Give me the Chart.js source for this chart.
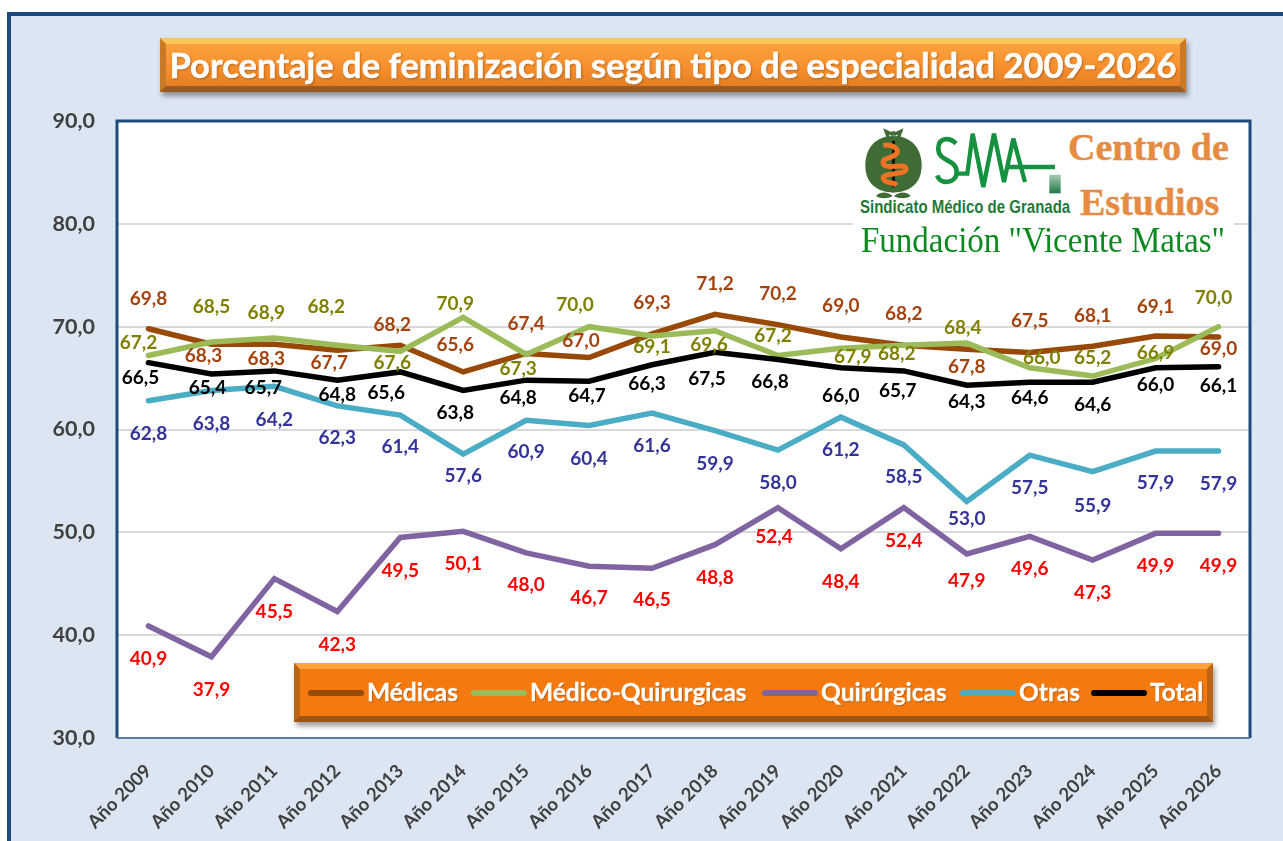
<!DOCTYPE html>
<html lang="es">
<head>
<meta charset="utf-8">
<title>Porcentaje de feminización</title>
<script src="https://cdn.jsdelivr.net/npm/chart.js@4/dist/chart.umd.min.js"></script>
<style>
  html, body { margin: 0; padding: 0; background: #fff; overflow: hidden; }
  #marco { position: absolute; left: 7px; top: 12px; width: 1290px; height: 840px; box-sizing: border-box;
           border-left: 4px solid #1f497d; border-top: 4px solid #1f497d; background: #dce6f2; }
  #grafica { position: absolute; left: 0; top: 0; display: block; }
  .caja { position: absolute; box-sizing: border-box; color: #fff; font-family: Lato, sans-serif; font-weight: 700;
          border-style: solid; white-space: nowrap; box-shadow: 2px 4px 5px rgba(0,0,0,.38); }
  #titulo { left: 160px; top: 38px; width: 1026px; height: 54px; line-height: 41px; text-align: center; font-size: 34.5px;
            border-width: 6px; border-color: #ffc65c #c87a26 #9a5a22 #c87a26;
            background: linear-gradient(#fba23c, #f78f2e 55%, #e57f22);
            -webkit-text-stroke: 0.5px #fff;
            text-shadow: 1px 1px 2px rgba(120,60,0,.6); }
  #leyenda { left: 294px; top: 663px; width: 919px; height: 59px; font-size: 24.5px; line-height: 45px;
             border-width: 6px; border-color: #ffa23c #bd6412 #9e5412 #bd6412; background: #f47a10;
             -webkit-text-stroke: 0.3px #fff;
             text-shadow: 1px 1px 1px rgba(120,60,0,.5); }
  #leyenda .item { position: absolute; top: 0; }
  #leyenda i { position: absolute; top: 21px; width: 56px; height: 6px; border-radius: 3px; }
  #logo { position: absolute; left: 853px; top: 123px; width: 381px; height: 132px; background: #fff; }
  #logo div { position: absolute; white-space: nowrap; transform-origin: left center; }
  #sma { position: absolute; left: -3px; top: -1px; }
  .centro { font-family: "Liberation Serif", serif; font-weight: 700; font-size: 38px; color: #e58b42; -webkit-text-stroke: 0.4px #e58b42; }
  #sindicato { left: 7px; top: 73px; font-family: "Liberation Sans", sans-serif;
               font-weight: 700; font-size: 19px; color: #1f7a3a; transform: scaleX(0.79); }
  #fundacion { left: 8px; top: 98px; font-family: "Liberation Serif", serif; font-size: 35px; color: #0b8a1e; transform: scaleX(0.943); }
</style>
</head>
<body>
<div id="marco"></div>
<canvas id="grafica" width="1283" height="841"></canvas>
<div id="titulo" class="caja">Porcentaje de feminización según tipo de especialidad 2009-2026</div>
<div id="logo">
  <svg id="sma" width="220" height="100" viewBox="0 0 660 300">
    <defs>
      <linearGradient id="cuadro" x1="0" y1="0" x2="0" y2="1">
        <stop offset="0" stop-color="#a9c9b4"/>
        <stop offset="1" stop-color="#1d7a45"/>
      </linearGradient>
    </defs>
    <path d="M130 38 L108 28 L116 50 M130 38 L152 28 L144 50 M130 38 L130 28" stroke="#3f6b35" stroke-width="10" fill="none"/>
    <path d="M130 42 C185 42 215 80 215 130 C215 185 180 210 130 212 C80 210 46 185 46 130 C46 80 75 42 130 42Z" fill="#3f6b35"/>
    <path d="M78 222 C95 205 115 212 128 222 C115 230 92 232 78 222Z M182 222 C165 205 145 212 132 222 C145 230 168 232 182 222Z" fill="#3f6b35"/>
    <rect x="126" y="56" width="9" height="140" fill="#111"/>
    <path d="M100 70 C125 65 150 80 140 95 C128 110 95 105 100 125 C105 145 165 120 168 140 C170 160 95 150 100 170 C105 185 130 178 140 190" stroke="#ee7325" stroke-width="15" fill="none"/>
    <path d="M318 65 C300 45 265 45 265 80 C265 120 320 110 320 150 C320 185 270 190 262 160" stroke="#16913f" stroke-width="14" fill="none"/>
    <path d="M320 155 L352 155 L368 35 L400 195 L432 35 L462 180 L490 50 L525 180 M470 135 L615 135" stroke="#16913f" stroke-width="13" fill="none"/>
    <rect x="598" y="158" width="34" height="56" fill="url(#cuadro)"/>
  </svg>
  <div id="sindicato">Sindicato Médico de Granada</div>
  <div class="centro" style="left:215px;top:2px">Centro de</div>
  <div class="centro" style="left:227px;top:57px">Estudios</div>
  <div id="fundacion">Fundación "Vicente Matas"</div>
</div>
<div id="leyenda" class="caja"></div>

<script>
//datos
var categorias = ["Año 2009", "Año 2010", "Año 2011", "Año 2012", "Año 2013", "Año 2014", "Año 2015", "Año 2016", "Año 2017",
  "Año 2018", "Año 2019", "Año 2020", "Año 2021", "Año 2022", "Año 2023", "Año 2024", "Año 2025", "Año 2026"];
var yTicks = [30, 40, 50, 60, 70, 80, 90];
var medicas = [69.8, 68.3, 68.3, 67.7, 68.2, 65.6, 67.4, 67.0, 69.3, 71.2, 70.2, 69.0, 68.2, 67.8, 67.5, 68.1, 69.1, 69.0];
var medicoQuirurgicas = [67.2, 68.5, 68.9, 68.2, 67.6, 70.9, 67.3, 70.0, 69.1, 69.6, 67.2, 67.9, 68.2, 68.4, 66.0, 65.2, 66.9, 70.0];
var quirurgicas = [40.9, 37.9, 45.5, 42.3, 49.5, 50.1, 48.0, 46.7, 46.5, 48.8, 52.4, 48.4, 52.4, 47.9, 49.6, 47.3, 49.9, 49.9];
var otras = [62.8, 63.8, 64.2, 62.3, 61.4, 57.6, 60.9, 60.4, 61.6, 59.9, 58.0, 61.2, 58.5, 53.0, 57.5, 55.9, 57.9, 57.9];
var total = [66.5, 65.4, 65.7, 64.8, 65.6, 63.8, 64.8, 64.7, 66.3, 67.5, 66.8, 66.0, 65.7, 64.3, 64.6, 64.6, 66.0, 66.1];

//desplazamiento de cada etiqueta respecto a su punto [dx, dy], colocadas a mano como en el original
var posMedicas = [[0,-30],[-8,12],[-8,15],[-8,13],[-8,-20],[-8,-27],[0,-30],[-8,-17],[0,-31],[0,-30],[0,-31],[0,-31],[0,-31],[0,18],[0,-32],[0,-30],[0,-29],[0,12]];
var posMedicoQ = [[-10,-13],[0,-35],[-8,-25],[-11,-38],[-8,12],[-8,-14],[-8,14],[-14,-22],[0,11],[-6,14],[-5,-20],[12,9],[-7,9],[-4,-15],[12,-10],[0,-18],[0,-6],[-5,-29]];
var posQuirurgicas = [[0,33],[0,33],[0,33],[0,33],[0,33],[0,33],[0,32],[0,32],[0,32],[0,33],[-4,29],[0,33],[0,33],[0,27],[0,32],[0,33],[0,33],[0,33]];
var posOtras = [[0,33],[0,33],[0,34],[0,32],[0,32],[0,22],[0,32],[0,33],[0,33],[0,33],[0,33],[0,33],[0,32],[0,17],[0,33],[0,34],[0,32],[0,33]];
var posTotal = [[-8,15],[-4,14],[-11,17],[0,15],[-14,21],[-8,22],[-8,18],[-2,15],[-5,19],[-8,26],[-8,22],[0,28],[-6,20],[0,17],[0,16],[0,23],[0,17],[0,19]];

var series = [
  { nombre: "Médicas", datos: medicas, color: "#984807", texto: "#a5430f", pos: posMedicas },
  { nombre: "Médico-Quirurgicas", datos: medicoQuirurgicas, color: "#9bbb59", texto: "#808000", pos: posMedicoQ },
  { nombre: "Quirúrgicas", datos: quirurgicas, color: "#8064a2", texto: "#ff0000", pos: posQuirurgicas },
  { nombre: "Otras", datos: otras, color: "#4bacc6", texto: "#333399", pos: posOtras },
  { nombre: "Total", datos: total, color: "#000000", texto: "#000000", pos: posTotal }
];

function coma(v) {
  return v.toFixed(1).replace(".", ",");
}

//fondo blanco y borde del area de la grafica
var areaPlugin = {
  id: "area",
  beforeDraw: function (chart) {
    var a = chart.chartArea;
    chart.ctx.fillStyle = "#fff";
    chart.ctx.fillRect(a.left, a.top, a.width, a.height);
  },
  beforeDatasetsDraw: function (chart) {
    var a = chart.chartArea, ctx = chart.ctx;
    ctx.save();
    ctx.strokeStyle = "#1f497d";
    ctx.lineWidth = 3;
    ctx.beginPath();
    ctx.moveTo(a.left, a.bottom);
    ctx.lineTo(a.left, a.top);
    ctx.lineTo(a.right, a.top);
    ctx.lineTo(a.right, a.bottom);
    ctx.stroke();
    ctx.strokeStyle = "#5b7a9d";
    ctx.lineWidth = 2;
    ctx.beginPath();
    ctx.moveTo(a.left, a.bottom);
    ctx.lineTo(a.right, a.bottom);
    ctx.stroke();
    ctx.restore();
  }
};

//etiquetas de valor en cada punto
var etiquetasPlugin = {
  id: "etiquetas",
  afterDatasetsDraw: function (chart) {
    var ctx = chart.ctx;
    ctx.save();
    ctx.font = "700 19px Lato";
    ctx.textAlign = "center";
    ctx.textBaseline = "middle";
    series.forEach(function (s, i) {
      ctx.fillStyle = s.texto;
      chart.getDatasetMeta(i).data.forEach(function (p, j) {
        ctx.fillText(coma(s.datos[j]), p.x + s.pos[j][0], p.y + s.pos[j][1]);
      });
    });
    ctx.restore();
  }
};

var myChart = new Chart(document.getElementById("grafica"), {
  type: "line",
  plugins: [areaPlugin, etiquetasPlugin],
  data: {
    labels: categorias,
    datasets: series.map(function (s, i) {
      return {
        label: s.nombre,
        data: s.datos,
        borderColor: s.color,
        backgroundColor: s.color,
        borderWidth: 5.5,
        borderCapStyle: "round",
        borderJoinStyle: "miter",
        pointRadius: 0,
        tension: 0,
        fill: false,
        //la ultima serie queda por encima
        order: series.length - i
      };
    })
  },
  options: {
    responsive: false,
    animation: false,
    layout: { padding: { left: 0, top: 121, right: 33, bottom: 0 } },
    plugins: { legend: { display: false }, title: { display: false }, tooltip: { enabled: false } },
    scales: {
      x: {
        offset: true,
        afterFit: function (scale) { scale.height = 103; },
        grid: { display: false, drawTicks: false },
        border: { display: false },
        ticks: { autoSkip: false, minRotation: 45, maxRotation: 45, padding: 22, color: "#404040", font: { family: "Lato", weight: "700", size: 18.5 } }
      },
      y: {
        min: yTicks[0],
        max: yTicks[yTicks.length - 1],
        afterFit: function (scale) { scale.width = 117; },
        afterBuildTicks: function (scale) {
          scale.ticks = yTicks.map(function (v) { return { value: v }; });
        },
        grid: { color: "#d9d9d9", lineWidth: 2, drawTicks: false },
        border: { display: false },
        ticks: {
          padding: 22,
          color: "#404040",
          font: { family: "Lato", weight: "700", size: 21.5 },
          callback: function (v) { return coma(v); }
        }
      }
    }
  }
});

//leyenda con las mismas series
var leyenda = document.getElementById("leyenda");
var izquierdas = [8, 171, 462, 660, 791];
series.forEach(function (s, i) {
  var item = document.createElement("div");
  item.className = "item";
  item.style.left = izquierdas[i] + "px";
  var linea = document.createElement("i");
  linea.style.left = "0";
  linea.style.background = s.color;
  var txt = document.createElement("span");
  txt.style.marginLeft = "59px";
  txt.textContent = s.nombre;
  item.appendChild(linea);
  item.appendChild(txt);
  leyenda.appendChild(item);
});
</script>
</body>
</html>
